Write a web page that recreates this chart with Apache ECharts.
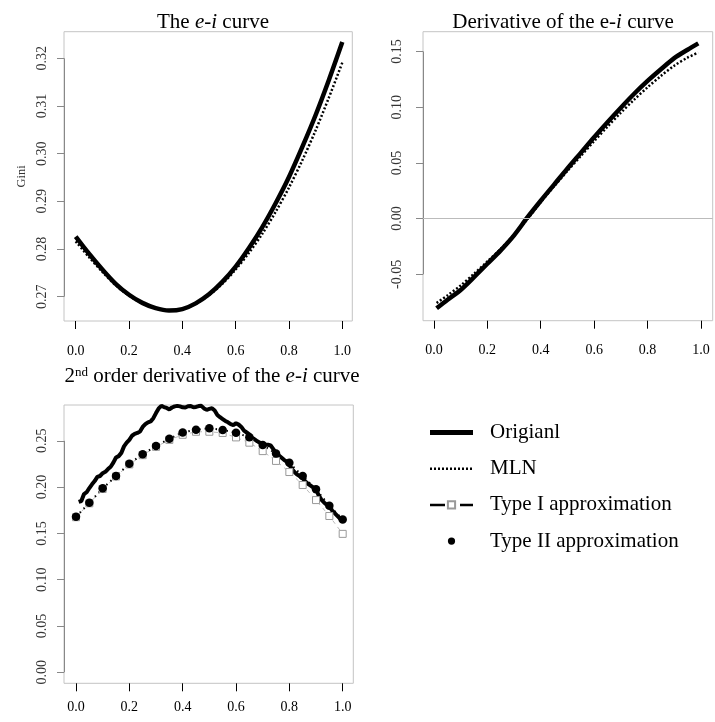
<!DOCTYPE html>
<html><head><meta charset="utf-8">
<script src="https://cdn.jsdelivr.net/npm/echarts@6/dist/echarts.min.js"></script>
<style>html,body{margin:0;padding:0;background:#fff}#c{width:715px;height:722px}</style>
</head><body><div id="c"></div>
<script>
const FONT = 'Liberation Serif';

// Panel 1: the e-i curve (Gini)
const giniX    = [0, 0.05, 0.10, 0.15, 0.20, 0.25, 0.30, 0.35, 0.40, 0.45, 0.50, 0.55, 0.60, 0.65, 0.70, 0.75, 0.80, 0.85, 0.90, 0.95, 1.00];
const giniOrig = [0.2826, 0.2790, 0.2757, 0.2727, 0.2704, 0.2687, 0.2676, 0.2671, 0.2674, 0.2686, 0.2705, 0.2731, 0.2763, 0.2802, 0.2846, 0.2896, 0.2951, 0.3014, 0.3081, 0.3155, 0.3234];
const giniMLN  = [0.2816, 0.2783, 0.2752, 0.2724, 0.2702, 0.2686, 0.2676, 0.2671, 0.2674, 0.2685, 0.2703, 0.2727, 0.2757, 0.2792, 0.2832, 0.2878, 0.2929, 0.2986, 0.3049, 0.3118, 0.3191];

// Panel 2: derivative
const derivX    = [0.01, 0.05, 0.10, 0.15, 0.20, 0.25, 0.30, 0.35, 0.40, 0.45, 0.50, 0.55, 0.60, 0.65, 0.70, 0.75, 0.80, 0.85, 0.90, 0.95, 0.99];
const derivOrig = [-0.0805, -0.0730, -0.0640, -0.0525, -0.0405, -0.0285, -0.0150, 0.0010, 0.0160, 0.0305, 0.0450, 0.0590, 0.0730, 0.0865, 0.0995, 0.1120, 0.1235, 0.1340, 0.1440, 0.1515, 0.1572];
const derivMLN  = [-0.0757, -0.0690, -0.0600, -0.0495, -0.0385, -0.0272, -0.0145, -0.0005, 0.0148, 0.0290, 0.0428, 0.0562, 0.0695, 0.0825, 0.0950, 0.1068, 0.1178, 0.1280, 0.1372, 0.1445, 0.1490];

// Panel 3: 2nd order derivative (original, x = 0.01 ... 1.00)
const sdOrig = [
  0.1840, 0.1850, 0.1925, 0.1945, 0.1990, 0.2030, 0.2065, 0.2110, 0.2120, 0.2150,
  0.2165, 0.2195, 0.2220, 0.2265, 0.2320, 0.2335, 0.2370, 0.2440, 0.2480, 0.2510,
  0.2555, 0.2575, 0.2585, 0.2600, 0.2650, 0.2680, 0.2700, 0.2710, 0.2745, 0.2800,
  0.2850, 0.2878, 0.2865, 0.2855, 0.2840, 0.2860, 0.2872, 0.2878, 0.2872, 0.2862,
  0.2860, 0.2874, 0.2876, 0.2862, 0.2866, 0.2876, 0.2878, 0.2850, 0.2835, 0.2845,
  0.2852, 0.2828, 0.2780, 0.2755, 0.2735, 0.2715, 0.2700, 0.2680, 0.2670, 0.2690,
  0.2675, 0.2650, 0.2610, 0.2590, 0.2570, 0.2535, 0.2515, 0.2495, 0.2480, 0.2465,
  0.2460, 0.2458, 0.2450, 0.2410, 0.2370, 0.2345, 0.2320, 0.2295, 0.2275, 0.2240,
  0.2195, 0.2160, 0.2135, 0.2115, 0.2095, 0.2060, 0.2035, 0.2015, 0.1995, 0.1980,
  0.1910, 0.1865, 0.1835, 0.1810, 0.1790, 0.1750, 0.1720, 0.1690, 0.1660, 0.1640
];
const apprX  = [0, 0.05, 0.10, 0.15, 0.20, 0.25, 0.30, 0.35, 0.40, 0.45, 0.50, 0.55, 0.60, 0.65, 0.70, 0.75, 0.80, 0.85, 0.90, 0.95, 1.00];
const typeI  = [0.1675, 0.1825, 0.1980, 0.2115, 0.2245, 0.2345, 0.2435, 0.2510, 0.2565, 0.2598, 0.2598, 0.2585, 0.2537, 0.2480, 0.2389, 0.2283, 0.2163, 0.2023, 0.1860, 0.1688, 0.1495];
const typeII = [0.1680, 0.1830, 0.1987, 0.2120, 0.2253, 0.2355, 0.2445, 0.2522, 0.2591, 0.2620, 0.2635, 0.2617, 0.2588, 0.2538, 0.2455, 0.2362, 0.2262, 0.2120, 0.1976, 0.1800, 0.1650];

// Tick labels
const xTicks  = [0, 0.2, 0.4, 0.6, 0.8, 1.0];
const y1Ticks = [0.27, 0.28, 0.29, 0.30, 0.31, 0.32];
const y2Ticks = [-0.05, 0.00, 0.05, 0.10, 0.15];
const y3Ticks = [0.00, 0.05, 0.10, 0.15, 0.20, 0.25];

const sdX = sdOrig.map((_, i) => +((i + 1) / 100).toFixed(2));
const pairs = (xs, ys) => xs.map((x, i) => [x, ys[i]]);

const X1 = [-0.0439, 1.0375], Y1 = [0.2649, 0.32558];
const X2 = [-0.041, 1.044],   Y2 = [-0.0916, 0.1677];
const X3 = [-0.045, 1.0398],  Y3 = [-0.0119, 0.2887];

function xAx(gi, r, margin) {
  return {
    type: 'value', gridIndex: gi, min: r[0], max: r[1],
    axisLine: { show: false, onZero: false }, splitLine: { show: false },
    axisTick: { show: true, length: 8, lineStyle: { color: '#000' }, customValues: xTicks },
    axisLabel: { customValues: xTicks, formatter: v => v.toFixed(1), fontFamily: FONT, fontSize: 14, color: '#000', margin: margin }
  };
}
function yAx(gi, r, ticks, margin, extra) {
  return Object.assign({
    type: 'value', gridIndex: gi, min: r[0], max: r[1],
    axisLine: { show: false, onZero: false }, splitLine: { show: false },
    axisTick: { show: true, length: 7, lineStyle: { color: '#888' }, customValues: ticks },
    axisLabel: { customValues: ticks, formatter: v => v.toFixed(2), rotate: 90, fontFamily: FONT, fontSize: 14, color: '#333', margin: margin }
  }, extra || {});
}
function axisLineMark(xmin, ticks) {
  return {
    silent: true, symbol: 'none', label: { show: false },
    lineStyle: { color: '#888', width: 1, type: 'solid' },
    data: [[{ coord: [xmin, ticks[0]] }, { coord: [xmin, ticks[ticks.length - 1]] }]]
  };
}

const solid = (w) => ({ color: '#000', width: w, type: 'solid' });
const dotted = { color: '#000', width: 2.5, type: [2, 2] };

const titleRich = {
  a: { fontFamily: FONT, fontSize: 21, color: '#000', fontWeight: 'normal' },
  b: { fontFamily: FONT, fontSize: 21, color: '#000', fontWeight: 'normal', fontStyle: 'italic' },
  s: { fontFamily: FONT, fontSize: 13, color: '#000', fontWeight: 'normal', verticalAlign: 'top' }
};
const titleText = { fontWeight: 'normal', rich: titleRich };

const option = {
  animation: false,
  backgroundColor: '#fff',
  title: [
    { text: '{a|The }{b|e-i}{a| curve}', left: 213, top: 12, textAlign: 'center', padding: 0, textStyle: titleText },
    { text: '{a|Derivative of the e-}{b|i}{a| curve}', left: 563, top: 12, textAlign: 'center', padding: 0, textStyle: titleText },
    { text: '{a|2}{s|nd}{a| order derivative of the }{b|e-i}{a| curve}', left: 212, top: 366, textAlign: 'center', padding: 0, textStyle: titleText }
  ],
  grid: [
    { left: 64, top: 31.7, width: 288.3, height: 289.3, show: true, borderColor: '#c4c4c4', borderWidth: 1 },
    { left: 423, top: 31.7, width: 289.7, height: 289, show: true, borderColor: '#c4c4c4', borderWidth: 1 },
    { left: 64, top: 405, width: 289.3, height: 278.3, show: true, borderColor: '#c4c4c4', borderWidth: 1 }
  ],
  xAxis: [xAx(0, X1, 23), xAx(1, X2, 23), xAx(2, X3, 17.5)],
  yAxis: [
    yAx(0, Y1, y1Ticks, 15, { name: 'Gini', nameLocation: 'middle', nameGap: 36, nameRotate: 90, nameTextStyle: { fontFamily: FONT, fontSize: 12.5, color: '#333' } }),
    yAx(1, Y2, y2Ticks, 19),
    yAx(2, Y3, y3Ticks, 15)
  ],
  legend: {
    orient: 'vertical', left: 427.5, top: 422, itemWidth: 43, itemHeight: 9, itemGap: 15.2, padding: 0,
    selectedMode: false,
    textStyle: { fontFamily: FONT, fontSize: 21, color: '#000', padding: [0, 0, 0, 12] },
    data: [
      { name: 'Origianl', itemStyle: { opacity: 0 }, lineStyle: { color: '#000', width: 5, type: 'solid' } },
      { name: 'MLN', itemStyle: { opacity: 0 }, lineStyle: { color: '#000', width: 2.5, type: [2, 2] } },
      { name: 'Type I approximation', lineStyle: { color: '#000', type: [15, 15], width: 2.5 } },
      { name: 'Type II approximation', lineStyle: { opacity: 0 } }
    ]
  },
  series: [
    { name: 'Origianl', type: 'line', xAxisIndex: 0, yAxisIndex: 0, data: pairs(giniX, giniOrig), symbol: 'none', smooth: 0.3, lineStyle: solid(4.5), markLine: axisLineMark(X1[0], y1Ticks) },
    { name: 'MLN', type: 'line', xAxisIndex: 0, yAxisIndex: 0, data: pairs(giniX, giniMLN), symbol: 'none', smooth: 0.3, lineStyle: dotted },
    { name: 'Origianl', type: 'line', xAxisIndex: 1, yAxisIndex: 1, data: pairs(derivX, derivOrig), symbol: 'none', smooth: 0.3, lineStyle: solid(4.5), markLine: axisLineMark(X2[0], y2Ticks) },
    { name: 'MLN', type: 'line', xAxisIndex: 1, yAxisIndex: 1, data: pairs(derivX, derivMLN), symbol: 'none', smooth: 0.3, lineStyle: dotted,
      markLine: { silent: true, symbol: 'none', label: { show: false }, lineStyle: { color: '#bbb', width: 1, type: 'solid' }, data: [{ yAxis: 0 }] } },
    { name: 'Type I approximation', type: 'line', xAxisIndex: 2, yAxisIndex: 2, data: pairs(apprX, typeI), symbol: 'rect', symbolSize: 7,
      itemStyle: { color: '#fff', borderColor: '#999', borderWidth: 1 }, lineStyle: { color: '#bbb', width: 1, type: [4, 4] } },
    { name: 'Origianl', type: 'line', xAxisIndex: 2, yAxisIndex: 2, data: pairs(sdX, sdOrig), symbol: 'none', clip: false, lineStyle: solid(4), markLine: axisLineMark(X3[0], y3Ticks) },
    { name: 'Type II approximation', type: 'line', xAxisIndex: 2, yAxisIndex: 2, data: pairs(apprX, typeII), symbol: 'circle', symbolSize: 8.5,
      itemStyle: { color: '#000' }, lineStyle: { color: '#000', width: 2, type: [1.5, 4] } }
  ]
};

const chart = echarts.init(document.getElementById('c'), null, { renderer: 'canvas' });
chart.setOption(option);
</script>
</body></html>
